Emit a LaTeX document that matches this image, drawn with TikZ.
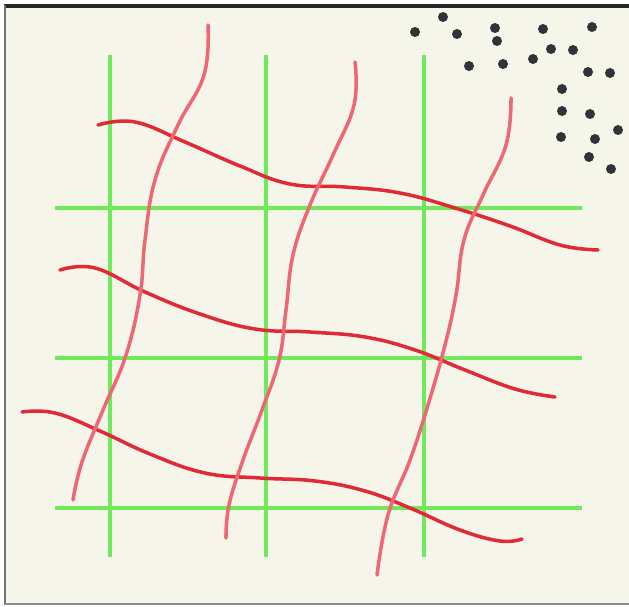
\documentclass[tikz,border=0pt]{standalone}
\usepackage{xcolor}
\definecolor{paper}{RGB}{245,245,234}
\definecolor{gridgreen}{RGB}{112,234,92}
\definecolor{fibrered}{RGB}{224,42,54}
\definecolor{fibrepink}{RGB}{238,104,116}
\definecolor{dotgray}{RGB}{50,50,56}
\tikzset{
  guide/.style={gridgreen, line width=5.5pt},
  weft/.style={fibrered, line width=5pt, line cap=round},
  warp/.style={fibrepink, line width=5pt, line cap=round},
  grain/.style={fill=dotgray, draw=none}
}
\begin{document}
\begin{tikzpicture}[x=0.05cm, y=-0.05cm]
        \useasboundingbox (0,0) rectangle (629,606);
        \fill[white] (0,0) rectangle (629,606);
        \fill[paper] (5,5) rectangle (629,604);
        \draw[black!85, line width=4.5pt] (4,6) -- (629,6);
        \draw[black!55, line width=4pt] (5,5) -- (5,605);
        \draw[black!45, line width=3pt] (5,604) -- (629,604);
        % green guide lines
        \foreach \gx in {110,266,424}
          \draw[guide] (\gx,55) -- (\gx,557);
        \foreach \gy in {208,358,508}
          \draw[guide] (55,\gy) -- (582,\gy);
        % red fibres, across
        \draw[weft] plot[smooth, tension=0.7] coordinates {(98,125) (135,122) (185,142) (240,166) (290,184) (345,187) (400,193) (455,208) (510,226) (560,245) (598,250)};
        \draw[weft] plot[smooth, tension=0.7] coordinates {(60,270) (95,268) (145,292) (200,314) (255,329) (310,332) (365,337) (415,350) (465,370) (515,389) (555,397)};
        \draw[weft] plot[smooth, tension=0.7] coordinates {(22,412) (55,413) (100,431) (150,454) (205,473) (260,478) (315,481) (365,491) (410,508) (460,530) (500,541) (522,539)};
        % red fibres, down
        \draw[warp] plot[smooth, tension=0.7] coordinates {(208,25) (204,75) (178,125) (155,180) (145,240) (140,295) (126,355) (103,410) (82,462) (73,500)};
        \draw[warp] plot[smooth, tension=0.7] coordinates {(355,62) (354,105) (333,155) (310,205) (293,255) (286,310) (279,360) (262,410) (243,460) (229,505) (226,538)};
        \draw[warp] plot[smooth, tension=0.7] coordinates {(511,98) (506,145) (483,195) (464,240) (456,295) (445,345) (428,405) (410,460) (388,515) (377,575)};
        % grains
        \foreach \px/\py in {443/17,415/32,457/34,495/28,497/41,543/29,592/27,551/49,573/50,533/59,469/66,503/64,588/72,610/73,562/89,562/111,590/114,618/130,561/137,595/139,589/157,611/169}
          \fill[grain] (\px,\py) circle [radius=5];
      \end{tikzpicture}
\end{document}
